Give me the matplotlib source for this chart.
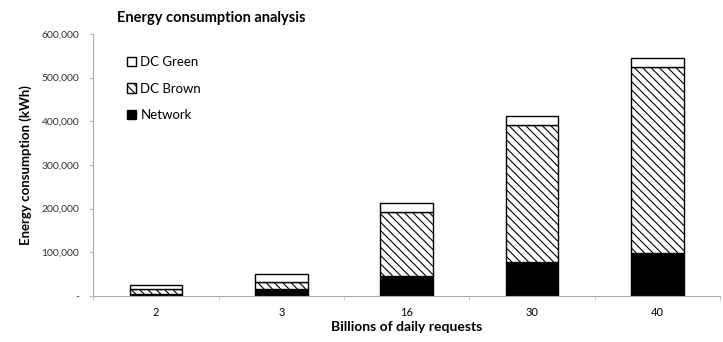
import matplotlib.pyplot as plt
import numpy as np
from matplotlib.ticker import FuncFormatter

categories = ["2", "3", "16", "30", "40"]
network = [5000, 15000, 45000, 78000, 97000]
dc_brown = [11000, 17000, 148000, 313000, 427000]
dc_green = [9000, 18000, 20000, 20000, 20000]

plt.rcParams['font.family'] = ['Lato', 'DejaVu Sans']
plt.rcParams['hatch.linewidth'] = 0.8

fig = plt.figure(figsize=(7.23, 3.42), dpi=100)
ax = fig.add_axes([0.129, 0.135, 0.867, 0.766])

x = np.arange(len(categories))
w = 0.42
net = np.array(network)
brown = np.array(dc_brown)
green = np.array(dc_green)

ax.bar(x, net, w, color='black', edgecolor='black', lw=1, label='Network')
ax.bar(x, brown, w, bottom=net, color='white', edgecolor='black', lw=1,
       hatch='\\\\\\\\', label='DC Brown')
ax.bar(x, green, w, bottom=net + brown, color='white', edgecolor='black', lw=1,
       label='DC Green')

ax.set_xlim(-0.5, len(categories) - 0.5)
ax.set_ylim(0, 600000)
ax.set_yticks(np.arange(0, 600001, 100000))
ax.yaxis.set_major_formatter(FuncFormatter(lambda v, p: '-' if v == 0 else f'{int(v):,}'))
ax.set_xticks(x)
ax.set_xticklabels(categories)
ax.set_xticks(np.arange(-0.5, len(categories)), minor=True)
ax.tick_params(axis='x', which='major', length=0, labelsize=8, pad=8)
ax.tick_params(axis='x', which='minor', length=3, color='#bbbbbb')
ax.tick_params(axis='y', length=3, color='#bbbbbb', labelsize=7.5, labelcolor='#333333', pad=7)

for s in ['top', 'right']:
    ax.spines[s].set_visible(False)
for s in ['left', 'bottom']:
    ax.spines[s].set_color('#aaaaaa')

ax.set_xlabel('Billions of daily requests', fontsize=10, fontweight='bold', labelpad=2)
ax.set_ylabel('Energy consumption (kWh)', fontsize=9.5, fontweight='bold', labelpad=7)
fig.text(0.292, 0.948, 'Energy consumption analysis', fontsize=10.5, fontweight='bold',
         ha='center', va='center')

h, l = ax.get_legend_handles_labels()
ax.legend(h[::-1], l[::-1], loc='upper left', bbox_to_anchor=(0.035, 0.96), frameon=False,
          fontsize=9.5, handlelength=0.7, handleheight=0.7, handletextpad=0.3,
          labelspacing=1.1)

fig.savefig('out.png', dpi=100)
